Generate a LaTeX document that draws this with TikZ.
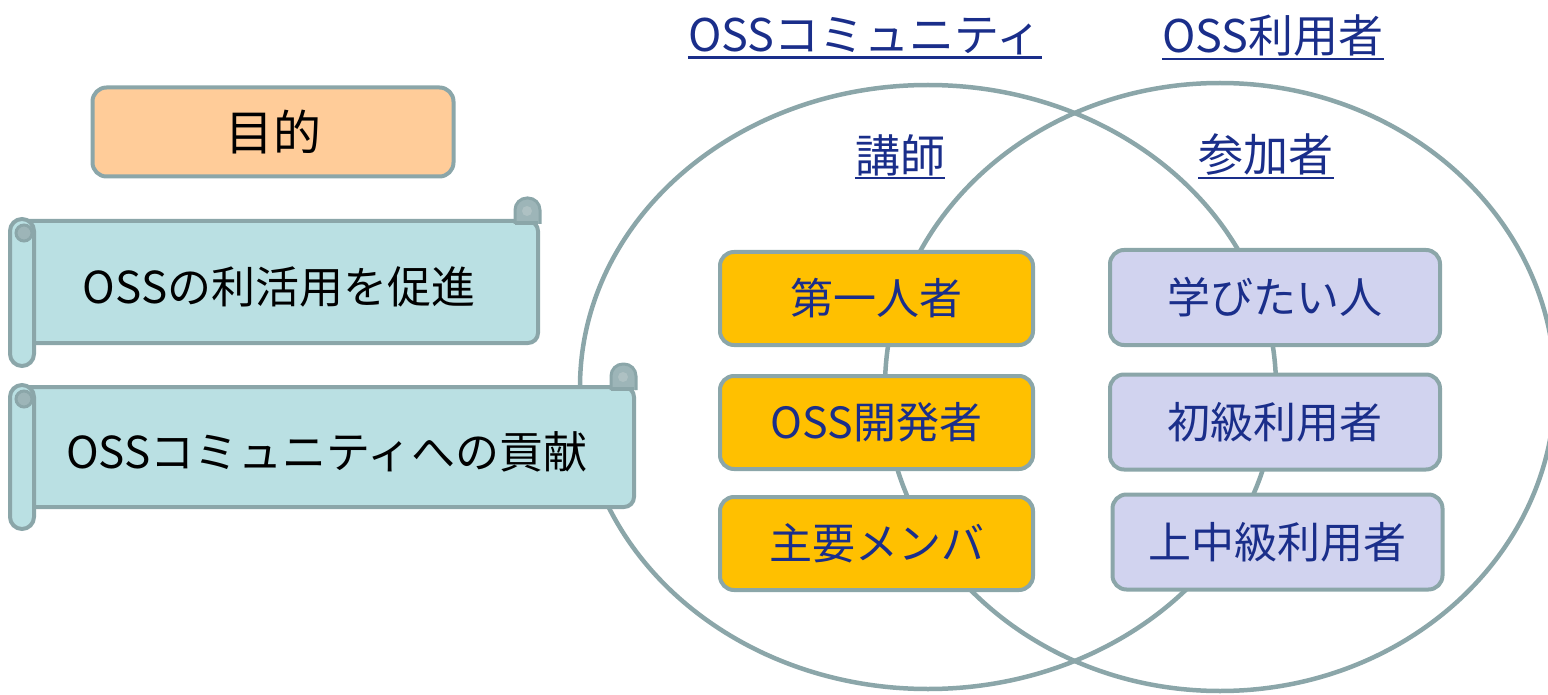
\documentclass[tikz,border=0pt]{standalone}
\usepackage{fontspec}
\setmainfont{Noto Sans CJK JP}
\definecolor{edge}{HTML}{8BA6A9}
\definecolor{curl}{HTML}{9DB5B8}
\definecolor{scrollfill}{HTML}{BAE0E3}
\definecolor{peach}{HTML}{FFCC99}
\definecolor{gold}{HTML}{FFC000}
\definecolor{lav}{HTML}{D1D3EF}
\definecolor{navy}{HTML}{1A2E8A}
\tikzset{
  ring/.style={draw=edge, line width=4.5pt},
  card/.style={draw=edge, line width=4pt, rounded corners=14pt, inner sep=0pt,
    font=\fontsize{43}{48}\selectfont, text=navy},
  goldcard/.style={card, fill=gold, minimum width=313pt, minimum height=93pt},
  lavcard/.style={card, fill=lav, minimum width=330pt, minimum height=95pt},
  scrollpart/.style={draw=edge, line width=4pt, fill=scrollfill},
  curlpart/.style={draw=edge, line width=3pt, fill=curl},
  title/.style={inner sep=0pt, text=navy, font=\fontsize{45}{50}\selectfont},
  ul/.style={draw=navy, line width=2.5pt},
  scrolltext/.style={inner sep=0pt, font=\fontsize{44}{50}\selectfont, text=black}
}
\begin{document}
\begin{tikzpicture}[x=1pt, y=-1pt]
\useasboundingbox (0,0) rectangle (1548,695);
\begin{scope}
\clip (0,0) rectangle (1548,695);
% Venn ellipses
\draw[ring] (928,387) ellipse [x radius=348, y radius=302];
\draw[ring] (1220,387) ellipse [x radius=335, y radius=304];
\end{scope}

% Purpose box
\node[draw=edge, line width=4pt, rounded corners=14pt, fill=peach,
  minimum width=361pt, minimum height=89pt, inner sep=0pt,
  font=\fontsize{48}{54}\selectfont] (goal) at (273,132) {目的};

% Scroll 1
\draw[scrollpart, rounded corners=10pt] (22,221) -- (538,221) -- (538,343) -- (22,343);
\draw[curlpart, rounded corners=12pt] (515,224) -- (515,198) -- (540,198) -- (540,224);
\draw[scrollpart] (515,223) -- (538,223);
\fill[edge!70!white] (527,211) circle (5);
\draw[scrollpart, rounded corners=12pt] (10,219) rectangle (34,366);
\draw[curlpart] (24,233) circle (8);
\node[scrolltext] (s1) at (279,287) {OSSの利活用を促進};

% Scroll 2
\draw[scrollpart, rounded corners=10pt] (22,387) -- (634,387) -- (634,507) -- (22,507);
\draw[curlpart, rounded corners=12pt] (611,390) -- (611,364) -- (636,364) -- (636,390);
\draw[scrollpart] (611,389) -- (634,389);
\fill[edge!70!white] (623,377) circle (5);
\draw[scrollpart, rounded corners=12pt] (10,385) rectangle (34,529);
\draw[curlpart] (24,399) circle (8);
\node[scrolltext] (s2) at (327,452) {OSSコミュニティへの貢献};

% Titles
\node[title] (comm) at (865,36) {OSSコミュニティ};
\draw[ul] ([yshift=-6pt]comm.base west) -- ([yshift=-6pt]comm.base east);
\node[title] (users) at (1273,36) {OSS利用者};
\draw[ul] ([yshift=-6pt]users.base west) -- ([yshift=-6pt]users.base east);
\node[title] (teach) at (900,155) {講師};
\draw[ul] ([yshift=-6pt]teach.base west) -- ([yshift=-6pt]teach.base east);
\node[title] (part) at (1266,155) {参加者};
\draw[ul] ([yshift=-6pt]part.base west) -- ([yshift=-6pt]part.base east);

% Left column
\node[goldcard] (a1) at (876.5,298.5) {第一人者};
\node[goldcard] (a2) at (876.5,422.5) {OSS開発者};
\node[goldcard] (a3) at (876.5,543.5) {主要メンバ};
% Right column
\node[lavcard] (b1) at (1275,297.5) {学びたい人};
\node[lavcard] (b2) at (1275,422) {初級利用者};
\node[lavcard] (b3) at (1277.5,542) {上中級利用者};
\end{tikzpicture}
\end{document}
